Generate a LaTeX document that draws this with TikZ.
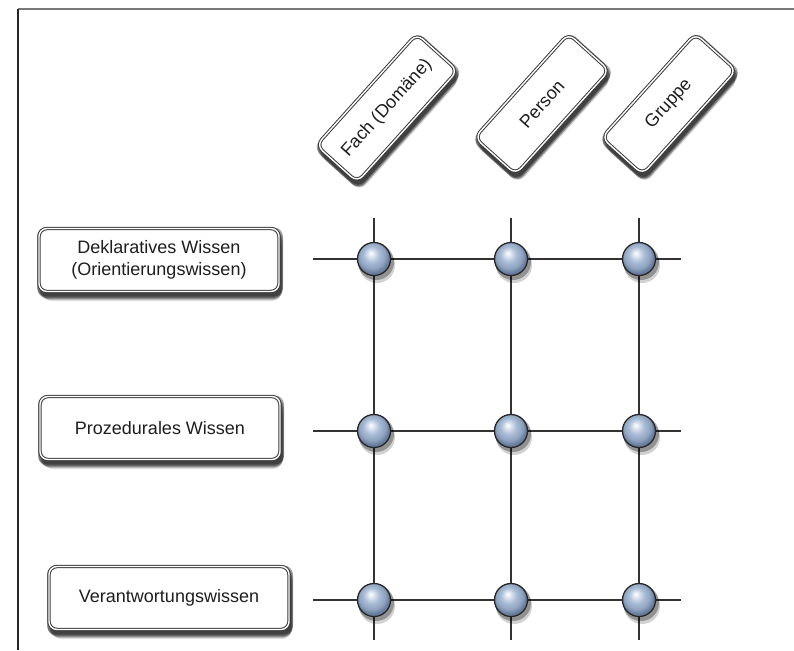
\documentclass[tikz,border=0pt]{standalone}
\usepackage{fontspec}
\setmainfont{Liberation Sans}
\definecolor{ballc}{RGB}{168,188,214}
\definecolor{balledge}{RGB}{105,125,158}
\definecolor{txt}{RGB}{30,30,30}
\definecolor{frametop}{RGB}{120,120,120}
\definecolor{boxline}{RGB}{60,60,60}
\pgfdeclareradialshading{glassball}{\pgfpoint{-5bp}{9bp}}{%
  color(0bp)=(white);
  color(3bp)=(white!75!ballc);
  color(12bp)=(ballc);
  color(20bp)=(ballc!60!balledge);
  color(25bp)=(balledge);
  color(50bp)=(balledge)}
\tikzset{
  shd/.style={draw=none, fill=black, fill opacity=#1, rounded corners=9pt, inner sep=0pt},
  lbl/.style={draw=boxline, line width=1pt, double=white, double distance=1.4pt,
    rounded corners=8pt, fill=white, text=txt,
    font=\fontsize{18}{22}\selectfont, align=center, inner sep=0pt},
  rowbox/.style={lbl, minimum width=240pt, minimum height=63pt},
  colbox/.style={lbl, minimum height=55pt, minimum width=140pt, rotate=48},
  knot/.style={circle, minimum size=33pt, inner sep=0pt, draw=black!85,
    line width=1.3pt, shading=glassball},
  knotshadow/.style={circle, draw=none, fill=black, fill opacity=#1, inner sep=0pt},
  gridline/.style={draw=black!80, line width=1.2pt},
  framel/.style={line width=1.5pt}
}
% soft shadow: name, x, y, width, height, rotation
\newcommand\mksoftshadow[6]{%
  \foreach \dx/\dy/\op/\gr [count=\n] in {1/2/0.35/3, 1/4/0.30/2, 2/6/0.24/0, 2/8/0.17/-2, 3/10/0.11/-4}{
    \node[shd=\op, minimum width={(#4+\gr)*1pt}, minimum height={(#5+\gr)*1pt},
      rotate=#6] (#1s\n) at ({#2+\dx},{#3+\dy}) {};
  }}
\begin{document}
\begin{tikzpicture}[x=1pt,y=-1pt]
\useasboundingbox (0,0) rectangle (794,650);
% frame
\coordinate (ftl) at (18,9);
\coordinate (ftr) at (794,9);
\coordinate (fbl) at (18,650);
\draw[framel, draw=frametop] (ftl) -- (ftr);
\draw[framel, draw=black!85] (ftl) -- (fbl);

% grid line end points
\coordinate (h1l) at (313,259); \coordinate (h1r) at (681,259);
\coordinate (h2l) at (313,431); \coordinate (h2r) at (681,431);
\coordinate (h3l) at (313,600); \coordinate (h3r) at (681,600);
\coordinate (v1t) at (374,218); \coordinate (v1b) at (374,640);
\coordinate (v2t) at (511,218); \coordinate (v2b) at (511,640);
\coordinate (v3t) at (639,218); \coordinate (v3b) at (639,640);
\foreach \i in {1,2,3}{
  \draw[gridline] (h\i l) -- (h\i r);
  \draw[gridline] (v\i t) -- (v\i b);
}

% knots
\foreach \r/\y in {1/259,2/431,3/600}{
  \foreach \c/\x in {1/374,2/511,3/639}{
    \node[knotshadow=0.30, minimum size=36pt] (ks\r\c) at (\x+2,\y+3) {};
    \node[knotshadow=0.18, minimum size=36pt] (kt\r\c) at (\x+3,\y+6) {};
    \node[knot] (k\r\c) at (\x,\y) {};
  }
}

% row labels
\mksoftshadow{r1}{159}{260}{243}{66}{0}
\node[rowbox] (r1) at (159,260) {Deklaratives Wissen\\(Orientierungswissen)};
\mksoftshadow{r2}{160}{428}{243}{66}{0}
\node[rowbox] (r2) at (160,428) {Prozedurales Wissen};
\mksoftshadow{r3}{169}{598}{243}{66}{0}
\node[rowbox] (r3) at (169,598) {Verantwortungswissen};

% column labels
\mksoftshadow{c1}{387}{108}{153}{58}{48}
\node[colbox, minimum width=150pt] (c1) at (387,108) {Fach (Domäne)};
\mksoftshadow{c2}{542}{104}{143}{58}{48}
\node[colbox] (c2) at (542,104) {Person};
\mksoftshadow{c3}{669}{104}{143}{58}{48}
\node[colbox] (c3) at (669,104) {Gruppe};
\end{tikzpicture}
\end{document}
